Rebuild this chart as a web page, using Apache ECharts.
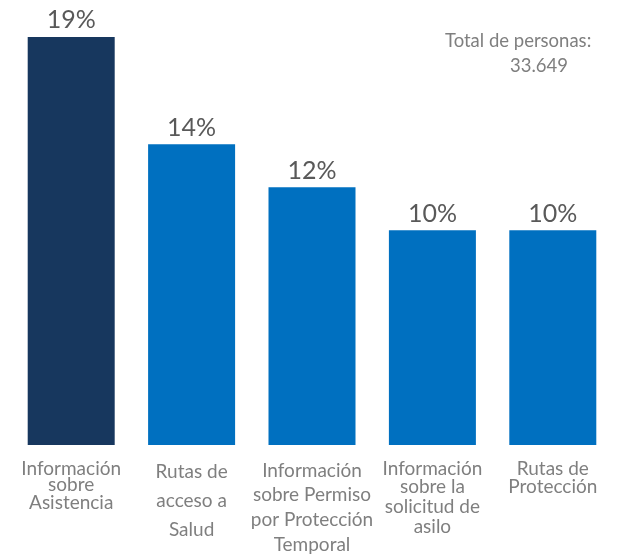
<!DOCTYPE html>
<html>
<head>
<meta charset="utf-8">
<script src="https://cdn.jsdelivr.net/npm/echarts@6/dist/echarts.min.js"></script>
<style>html,body{margin:0;padding:0;background:#fff}#c{width:627px;height:554px}</style>
</head>
<body>
<div id="c"></div>
<script>
const categories = ["Información\nsobre\nAsistencia", "Rutas de\nacceso a\nSalud", "Información\nsobre Permiso\npor Protección\nTemporal", "Información\nsobre la\nsolicitud de\nasilo", "Rutas de\nProtección"];
const values = [19, 14, 12, 10, 10];
const barColors = ["#17375E", "#0070C0", "#0070C0", "#0070C0", "#0070C0"];
const totalLabel = "Total de personas:";
const totalValue = "33.649";

const lineHeights = [18.5, 29, 25, 20, 20];
const firstPad = [5, 0, 2, 4, 4];
const rich = {};
lineHeights.forEach((lh, i) => {
  rich['s' + i] = { lineHeight: lh, fontSize: 19, color: '#7F7F7F', fontFamily: 'Lato', align: 'center' };
  rich['f' + i] = { lineHeight: lh, fontSize: 19, color: '#7F7F7F', fontFamily: 'Lato', align: 'center', padding: [firstPad[i], 0, 0, 0] };
});

const chart = echarts.init(document.getElementById('c'));
chart.setOption({
  animation: false,
  grid: { left: 11, right: 14, top: 15.4, bottom: 108, containLabel: false },
  xAxis: {
    type: 'category',
    data: categories,
    axisLine: { show: false },
    axisTick: { show: false },
    axisLabel: {
      interval: 0,
      margin: 12,
      formatter: (v, i) => v.split('\n').map((l, k) => '{' + (k === 0 ? 'f' : 's') + i + '|' + l + '}').join('\n'),
      rich: rich
    }
  },
  yAxis: { type: 'value', min: 0, max: 20, show: false, splitLine: { show: false } },
  series: [{
    type: 'bar',
    barWidth: 87,
    data: values.map((v, i) => ({ value: v, itemStyle: { color: barColors[i] } })),
    label: {
      show: true, position: 'top', distance: 4,
      formatter: p => p.value + '%',
      fontSize: 25, color: '#595959', fontFamily: 'Lato'
    }
  }],
  graphic: [
    { type: 'text', left: 445, top: 32, style: { text: totalLabel, fontSize: 18.5, fill: '#7F7F7F', fontFamily: 'Lato' } },
    { type: 'text', left: 510, top: 57, style: { text: totalValue, fontSize: 18.5, fill: '#7F7F7F', fontFamily: 'Lato' } }
  ]
});
</script>
</body>
</html>
